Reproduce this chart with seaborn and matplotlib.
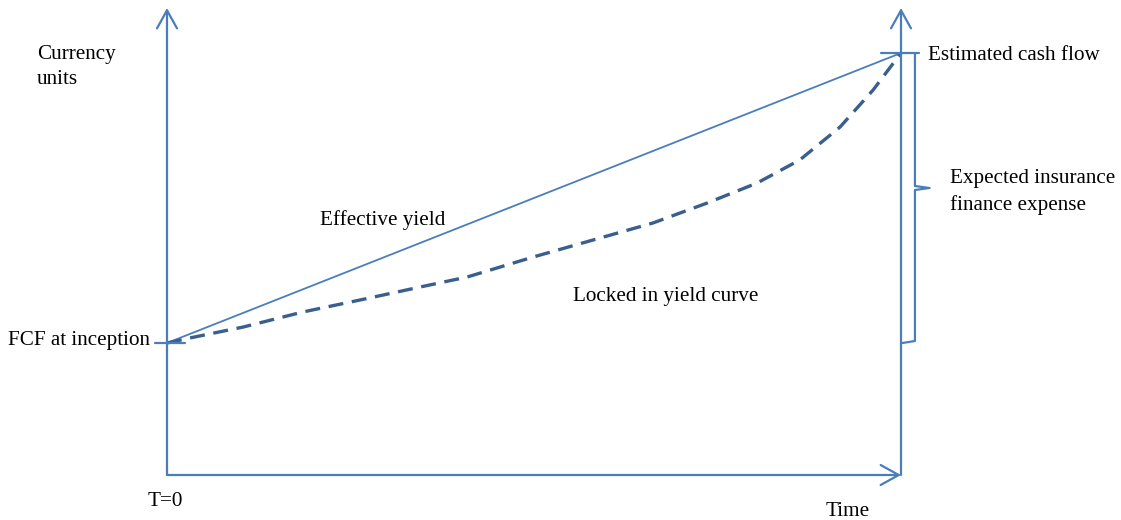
import matplotlib
matplotlib.use("Agg")
import matplotlib.pyplot as plt
import seaborn as sns
import pandas as pd

# ---- data (time in arbitrary units, value in currency units) ----
t_start, t_end = 0.0, 10.0
fcf_inception = 132
est_cash_flow = 422
axis_top = 467

effective_time = [t_start, t_end]
effective_value = [fcf_inception, est_cash_flow]

locked_time = [0.0, 0.31, 1.04, 1.85, 2.63, 3.45, 4.09, 4.99, 5.90, 6.62,
               7.36, 8.04, 8.62, 9.17, 9.62, 10.0]
locked_value = [132, 137, 148, 163, 175, 188, 198, 218, 237, 252,
                272, 292, 315, 348, 385, 422]

labels = {
    "ylabel": "Currency\nunits",
    "fcf": "FCF at inception",
    "eff": "Effective yield",
    "locked": "Locked in yield curve",
    "cash": "Estimated cash flow",
    "ife": "Expected insurance\nfinance expense",
    "t0": "T=0",
    "time": "Time",
}

sns.set_style("white")
plt.rcParams["font.family"] = ["Liberation Serif", "DejaVu Serif"]

fig = plt.figure(figsize=(11.21, 5.20), dpi=100)
ax = fig.add_axes([0, 0, 1, 1])
px = 73.4  # pixels per time unit
ax.set_xlim(-167 / px, (1121 - 167) / px)
ax.set_ylim(-45, 475)
ax.axis("off")

axis_col = "#4a7ebb"
dash_col = "#3a5f8d"

# axes arrows
arrow_kw = dict(arrowstyle="->,head_length=1.3,head_width=0.72",
                color=axis_col, lw=1.6, shrinkA=0, shrinkB=0)
ax.annotate("", xy=(t_start, axis_top), xytext=(t_start, 0), arrowprops=arrow_kw)
ax.annotate("", xy=(t_end, axis_top), xytext=(t_end, 0), arrowprops=arrow_kw)
ax.annotate("", xy=(t_end, 0), xytext=(t_start, 0), arrowprops=arrow_kw)

# lines
eff_df = pd.DataFrame({"t": effective_time, "v": effective_value})
locked_df = pd.DataFrame({"t": locked_time, "v": locked_value})
sns.lineplot(data=eff_df, x="t", y="v", ax=ax, color=axis_col, lw=1.3)
sns.lineplot(data=locked_df, x="t", y="v", ax=ax, color=dash_col, lw=2.4,
             dashes=False, linestyle=(0, (4.5, 2.6)))

# ticks
ax.plot([t_start - 0.16, t_start + 0.25], [fcf_inception, fcf_inception],
        color=axis_col, lw=1.6)
ax.plot([t_end - 0.27, t_end + 0.25], [est_cash_flow, est_cash_flow],
        color=axis_col, lw=1.6)

# brace
bx = t_end + 0.19
mid = (fcf_inception + est_cash_flow) / 2 + 10
ax.plot([t_end + 0.02, bx, bx, bx + 0.2, bx, bx],
        [fcf_inception, fcf_inception + 2, mid - 2, mid, mid + 2, est_cash_flow],
        color=axis_col, lw=1.6)

fs = 15.2
def T(x, y, s, ha="left"):
    ax.text((x - 167) / px, 475 - y, s, ha=ha, va="center", fontsize=fs,
            color="black", linespacing=1.5)

T(37, 67, labels["ylabel"])
T(8, 341, labels["fcf"])
T(320, 220, labels["eff"])
T(573, 296, labels["locked"])
T(928, 55, labels["cash"])
T(950, 192, labels["ife"])
T(148, 502, labels["t0"])
T(826, 511, labels["time"])

fig.savefig("out.png", dpi=100)
